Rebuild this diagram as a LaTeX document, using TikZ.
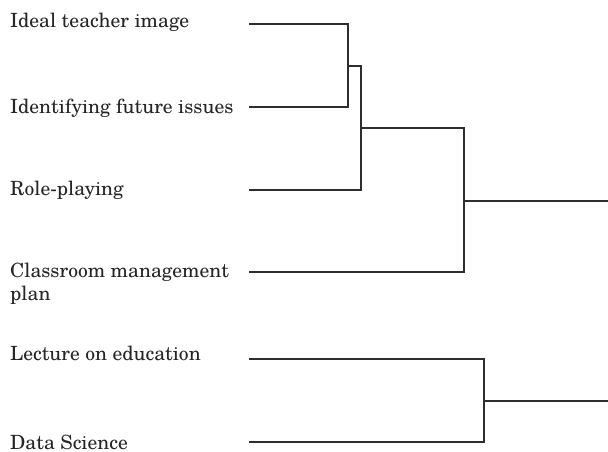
\documentclass[tikz,border=0pt]{standalone}
\usepackage{fontspec}
\setmainfont{texgyreschola-regular.otf}
\begin{document}
\begin{tikzpicture}[x=1bp,y=-1bp,
  lab/.style={anchor=base west,inner sep=0pt,font=\fontsize{19.6bp}{23bp}\selectfont,text=black!85},
  link/.style={draw=black!82,line width=1.6bp}]
\useasboundingbox (0,0) rectangle (608,452);
% labels
\node[lab] (t1) at (10,28) {Ideal teacher image};
\node[lab] (t2) at (10,113.5) {Identifying future issues};
\node[lab] (t3) at (10,195.5) {Role-playing};
\node[lab] (t4) at (10,278) {\begin{tabular}[t]{@{}l@{}}Classroom management\\plan\end{tabular}};
\node[lab] (t5) at (10,360.5) {Lecture on education};
\node[lab] (t6) at (10,449) {Data Science};
% leaf ends
\coordinate (l1) at (249,24);
\coordinate (l2) at (249,107);
\coordinate (l3) at (249,190);
\coordinate (l4) at (249,272);
\coordinate (l5) at (249,359);
\coordinate (l6) at (249,442);
% joins
\coordinate (j1) at (348,66);
\coordinate (j2) at (361,128);
\coordinate (j3) at (464,201);
\coordinate (j4) at (484,401);
\coordinate (r1) at (609,201);
\coordinate (r2) at (609,401);
% dendrogram
\draw[link] (l1) -| (j1) |- (l2);
\draw[link] (j1) -| (j2) |- (l3);
\draw[link] (j2) -| (j3) |- (l4);
\draw[link] (j3) -- (r1);
\draw[link] (l5) -| (j4) |- (l6);
\draw[link] (j4) -- (r2);
\end{tikzpicture}
\end{document}
